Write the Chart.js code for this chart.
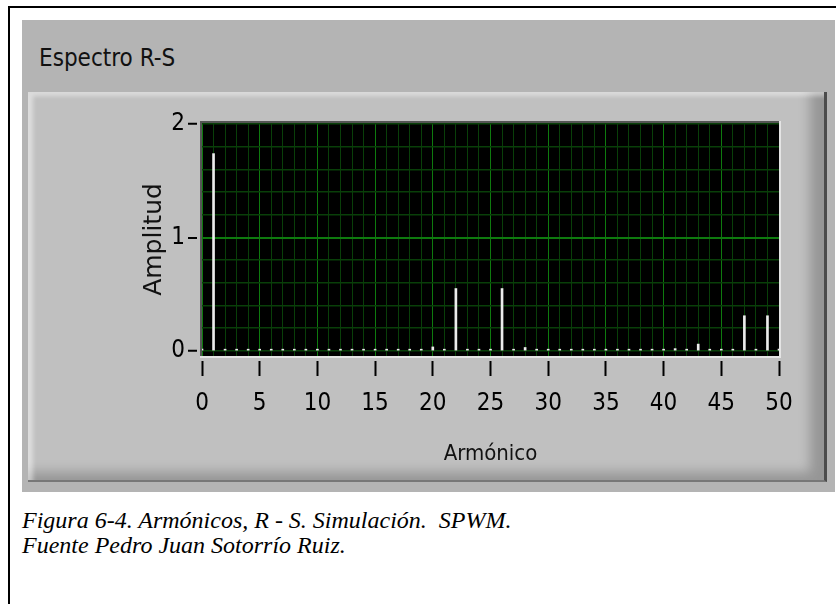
<!DOCTYPE html>
<html lang="es">
<head>
<meta charset="UTF-8">
<script src="https://cdn.jsdelivr.net/npm/chart.js@4.4.1/dist/chart.umd.min.js"></script>
<title>Espectro R-S</title>
<style>
  body { margin: 0; background: #fff; width: 836px; height: 604px; overflow: hidden; position: relative; }
  #frame { position: absolute; left: 8px; top: 6px; width: 830px; height: 600px; border-left: 2px solid #000; border-top: 2px solid #000; }
  #outer { position: absolute; left: 22px; top: 20px; width: 813px; height: 472px; background: #b4b4b4; }
  #title { position: absolute; left: 39px; top: 44px; font: 24px "DejaVu Sans Condensed", "Liberation Sans Narrow", sans-serif; color: #111; }
  #inner { position: absolute; left: 28px; top: 92px; width: 796px; height: 388px; background: #c0c0c0;
           border-right: 3px solid #4c4c4c; border-bottom: 2px solid #777;
           box-shadow: inset 5px 4px 4px rgba(255,255,255,0.45), inset -14px -8px 12px rgba(0,0,0,0.22); }
  #myChart { position: absolute; left: 30px; top: 92px; }
  #caption { position: absolute; left: 22px; top: 508px; font: italic 24px "Liberation Serif", "Times New Roman", serif; line-height: 25px; color: #000; }
</style>
</head>
<body>
<div id="frame"></div>
<div id="outer"></div>
<div id="title">Espectro R-S</div>
<div id="inner"></div>
<canvas id="myChart" width="796" height="390"></canvas>
<div id="caption">Figura 6-4. Armónicos, R - S. Simulación.&nbsp; SPWM.<br>Fuente Pedro Juan Sotorrío Ruiz.</div>
<script>
var harmonics = [0, 1, 2, 3, 4, 5, 6, 7, 8, 9, 10, 11, 12, 13, 14, 15, 16, 17, 18, 19, 20,
                 21, 22, 23, 24, 25, 26, 27, 28, 29, 30, 31, 32, 33, 34, 35, 36, 37, 38, 39, 40,
                 41, 42, 43, 44, 45, 46, 47, 48, 49, 50];
var amplitudes = [0.015, 1.74, 0.015, 0.015, 0.015, 0.015, 0.015, 0.015, 0.015, 0.015, 0.015,
                  0.015, 0.015, 0.015, 0.015, 0.015, 0.015, 0.015, 0.015, 0.015, 0.035,
                  0.015, 0.55, 0.015, 0.015, 0.015, 0.55, 0.015, 0.03, 0.015, 0.015,
                  0.015, 0.015, 0.015, 0.015, 0.015, 0.015, 0.015, 0.015, 0.015, 0.015,
                  0.02, 0.015, 0.06, 0.015, 0.015, 0.015, 0.31, 0.015, 0.31, 0.015];
var yTicks = [0, 0.2, 0.4, 0.6, 0.8, 1, 1.2, 1.4, 1.6, 1.8, 2];
var yLabels = [0, 1, 2];

var majorGreen = '#0e7a0e';
var minorGreen = '#093f09';
var narrow = '"DejaVu Sans Condensed", "Liberation Sans Narrow", sans-serif';

function tickVal(c) { return c.tick ? c.tick.value : NaN; }

// fondo negro del gráfico y marco hundido
var plotFrame = {
    id: 'plotFrame',
    beforeDraw: function (chart) {
        var a = chart.chartArea, c = chart.ctx;
        c.save();
        c.fillStyle = '#000';
        c.fillRect(a.left, a.top, a.right - a.left, a.bottom - a.top);
        c.restore();
    },
    afterDraw: function (chart) {
        var a = chart.chartArea, c = chart.ctx;
        c.save();
        c.fillStyle = '#c0c0c0';
        c.fillRect(a.left - 5, a.bottom, a.right - a.left + 8, 5);
        c.fillRect(a.left - 5, a.top - 3, 3, a.bottom - a.top + 5);
        c.fillStyle = '#e4e4e4';
        c.fillRect(a.left - 2, a.bottom, a.right - a.left + 4, 2);
        c.fillRect(a.right, a.top - 2, 2, a.bottom - a.top + 4);
        c.fillStyle = '#555';
        c.fillRect(a.left - 2, a.top - 2, a.right - a.left + 2, 2);
        c.fillRect(a.left - 2, a.top - 2, 2, a.bottom - a.top + 2);
        c.restore();
    }
};

var ctx = document.getElementById('myChart').getContext('2d');
var myChart = new Chart(ctx, {
    type: 'bar',
    data: {
        datasets: [{
            label: 'Amplitud',
            data: harmonics.map(function (h, i) { return { x: h, y: amplitudes[i] }; }),
            backgroundColor: '#ececec',
            borderWidth: 0,
            barThickness: 2
        }]
    },
    plugins: [plotFrame],
    options: {
        responsive: false,
        animation: false,
        layout: { padding: { left: 0, top: 31, right: 47, bottom: 0 } },
        plugins: { legend: { display: false }, tooltip: { enabled: false } },
        scales: {
            x: {
                type: 'linear',
                min: 0,
                max: 50,
                offset: false,
                afterFit: function (s) { s.height = 126; },
                border: { display: false },
                grid: {
                    offset: false,
                    color: function (c) { return tickVal(c) % 5 === 0 ? majorGreen : minorGreen; },
                    tickColor: function (c) { return tickVal(c) % 5 === 0 ? '#000' : 'rgba(0,0,0,0)'; },
                    tickLength: 20,
                    tickWidth: 2,
                    lineWidth: 1
                },
                ticks: {
                    stepSize: 1,
                    autoSkip: false,
                    maxRotation: 0,
                    padding: 13,
                    color: '#000',
                    font: { family: narrow, size: 24 },
                    callback: function (v) { return v % 5 === 0 ? v : ''; }
                },
                title: {
                    display: true,
                    text: 'Armónico',
                    color: '#111',
                    font: { family: narrow, size: 22 },
                    padding: { top: 0, bottom: 15 }
                }
            },
            y: {
                min: -0.045,
                max: 2.01,
                afterFit: function (s) { s.width = 172; },
                afterBuildTicks: function (s) { s.ticks = yTicks.map(function (v) { return { value: v }; }); },
                border: { display: false },
                grid: {
                    color: function (c) { return tickVal(c) === 1 ? majorGreen : minorGreen; },
                    tickColor: function (c) { return yLabels.indexOf(tickVal(c)) >= 0 ? '#000' : 'rgba(0,0,0,0)'; },
                    tickLength: 14,
                    tickWidth: 2,
                    lineWidth: function (c) { return tickVal(c) === 1 ? 2 : 1.5; }
                },
                ticks: {
                    autoSkip: false,
                    padding: 3,
                    color: '#000',
                    font: { family: narrow, size: 24 },
                    callback: function (v) { return yLabels.indexOf(v) >= 0 ? v : ''; }
                },
                title: {
                    display: true,
                    text: 'Amplitud',
                    color: '#111',
                    font: { family: '"DejaVu Sans", Verdana, sans-serif', size: 25 },
                    padding: { top: 109, bottom: 0 }
                }
            }
        }
    }
});
</script>
</body>
</html>
